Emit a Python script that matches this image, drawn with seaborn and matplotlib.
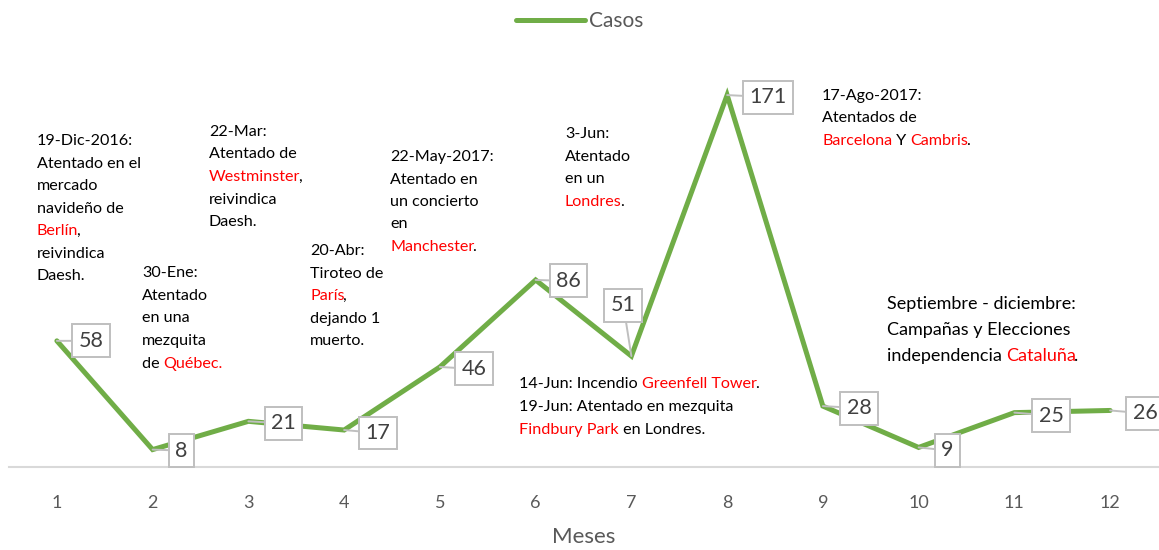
import numpy as np
import pandas as pd
import matplotlib.pyplot as plt
import seaborn as sns

# data
meses = [1, 2, 3, 4, 5, 6, 7, 8, 9, 10, 11, 12]
casos = [58, 8, 21, 17, 46, 86, 51, 171, 28, 9, 25, 26]

# notes: each line is a list of (text, red?) segments
nota_berlin = [[("19-Dic-2016:", 0)], [("Atentado en el", 0)], [("mercado", 0)],
               [("navideño de", 0)], [("Berlín", 1), (",", 0)], [("reivindica", 0)], [("Daesh.", 0)]]
nota_quebec = [[("30-Ene:", 0)], [("Atentado", 0)], [("en una", 0)], [("mezquita", 0)],
               [("de ", 0), ("Québec.", 1)]]
nota_westminster = [[("22-Mar:", 0)], [("Atentado de", 0)], [("Westminster", 1), (",", 0)],
                    [("reivindica", 0)], [("Daesh.", 0)]]
nota_paris = [[("20-Abr:", 0)], [("Tiroteo de", 0)], [("París", 1), (",", 0)],
              [("dejando 1", 0)], [("muerto.", 0)]]
nota_manchester = [[("22-May-2017:", 0)], [("Atentado en", 0)], [("un concierto", 0)],
                   [("en", 0)], [("Manchester", 1), (".", 0)]]
nota_londres = [[("3-Jun:", 0)], [("Atentado", 0)], [("en un", 0)], [("Londres", 1), (".", 0)]]
nota_junio = [[("14-Jun: Incendio ", 0), ("Greenfell Tower", 1), (".", 0)],
              [("19-Jun: Atentado en mezquita", 0)],
              [("Findbury Park", 1), (" en Londres.", 0)]]
nota_barcelona = [[("17-Ago-2017:", 0)], [("Atentados de", 0)],
                  [("Barcelona", 1), (" Y ", 0), ("Cambris", 1), (".", 0)]]
nota_cataluna = [[("Septiembre - diciembre:", 0)], [("Campañas y Elecciones", 0)],
                 [("independencia ", 0), ("Cataluña", 1), (".", 0)]]

df = pd.DataFrame({"Meses": meses, "Casos": casos})

sns.set_style("white")
plt.rcParams["font.family"] = ["Lato", "DejaVu Sans"]

W, H = 1159, 550
fig = plt.figure(figsize=(W / 100, H / 100), dpi=100)
ax = fig.add_axes([9 / W, (H - 467) / H, 1 - 10 / W, (467 - 32) / H])

sns.lineplot(data=df, x="Meses", y="Casos", color="#70AD47", linewidth=3.6,
             label="Casos", ax=ax, solid_joinstyle="miter")
ax.set_xlim(0.5, 12.5)
ax.set_ylim(0, 200)
ax.set_xticks(meses)
ax.tick_params(axis="x", labelsize=13, colors="#595959", length=0, pad=20)
ax.set_yticks([])
ax.set_ylabel("")
ax.set_xlabel("Meses", fontsize=16, color="#595959", labelpad=12)
for s in ["top", "left", "right"]:
    ax.spines[s].set_visible(False)
ax.spines["bottom"].set_color("#D9D9D9")
ax.spines["bottom"].set_linewidth(1.5)

leg = ax.legend(loc="center", bbox_to_anchor=(0.5, (H - 21) / H), bbox_transform=fig.transFigure,
                frameon=False, fontsize=15, handlelength=3.3, handletextpad=0.2)
for t in leg.get_texts():
    t.set_color("#595959")

# data label callouts (offsets in pixels)
offs = [(34, 0), (29, -1), (35, -2), (34, -3), (34, -2), (33, -1),
        (-8, 51), (41, -2), (36, -2), (29, -3), (37, -3), (35, -3)]
for m, c, (dx, dy) in zip(meses, casos, offs):
    ax.annotate(str(c), xy=(m, c), xytext=(dx, dy), textcoords="offset pixels",
                ha="center", va="center", fontsize=15.5, color="#404040",
                bbox=dict(boxstyle="square,pad=0.3", fc="white", ec="#BFBFBF", lw=1.4),
                arrowprops=dict(arrowstyle="-", color="#BFBFBF", lw=1.4,
                                shrinkA=0, shrinkB=0))


def nota(lines, x, y, step, size=11.6):
    for i, line in enumerate(lines):
        yy = 1 - (y + i * step) / H
        last = None
        for txt, red in line:
            col = "#FF0000" if red else "#000000"
            if last is None:
                last = fig.text(x / W, yy, txt, fontsize=size, color=col, va="center", ha="left")
            else:
                dx = -2 if txt[0] in ".," else 0
                last = ax.annotate(txt, xy=(1, 0.5), xycoords=last, xytext=(dx, 0),
                                   textcoords="offset pixels", fontsize=size,
                                   color=col, va="center", ha="left")


nota(nota_berlin, 37, 141, 22.5)
nota(nota_quebec, 142, 273, 22.7)
nota(nota_westminster, 209, 132, 22.5)
nota(nota_paris, 310, 251, 22.5)
nota(nota_manchester, 390, 157, 22.5)
nota(nota_londres, 565, 134, 22.6)
nota(nota_junio, 519, 384, 23)
nota(nota_barcelona, 822, 96, 22.5)
nota(nota_cataluna, 887, 304, 26, size=13)

fig.savefig("out.png", dpi=100)
